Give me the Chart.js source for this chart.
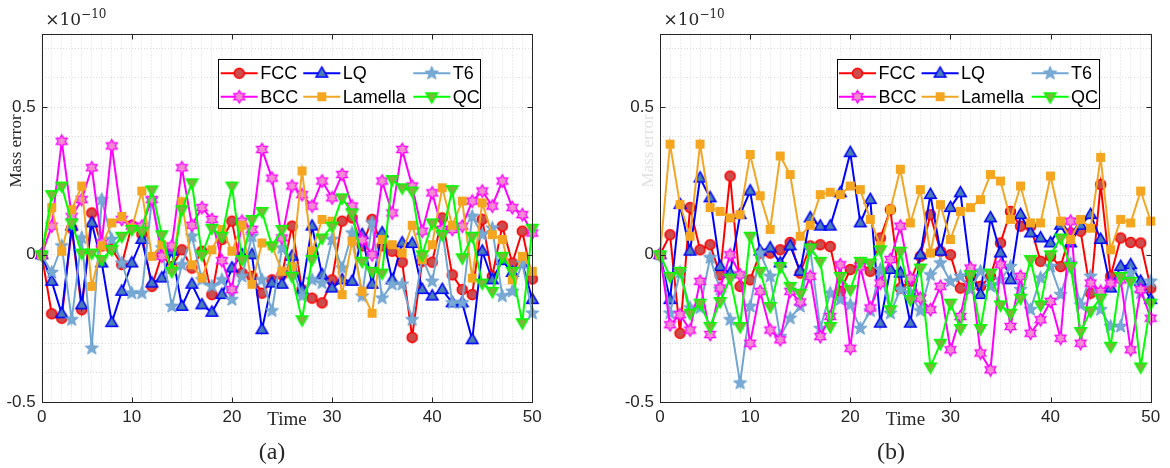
<!DOCTYPE html>
<html><head><meta charset="utf-8">
<script src="https://cdn.jsdelivr.net/npm/chart.js@4.4.1/dist/chart.umd.min.js"></script>
<style>
html,body{margin:0;padding:0;background:#fff;}
#wrap{position:relative;width:1170px;height:468px;overflow:hidden;background:#fff;}
.pane{position:absolute;top:0;width:585px;height:468px;}
</style></head><body>
<div id="wrap">
<div class="pane" style="left:0"><canvas id="ca" width="585" height="468"></canvas></div>
<div class="pane" style="left:585px"><canvas id="cb" width="585" height="468"></canvas></div>
</div>
<script>
// ---------- data ----------
const NAMES = ['FCC','LQ','T6','BCC','Lamella','QC'];
const TIME = [1,2,3,4,5,6,7,8,9,10,11,12,13,14,15,16,17,18,19,20,21,22,23,24,25,26,27,28,29,30,31,32,33,34,35,36,37,38,39,40,41,42,43,44,45,46,47,48,49,50];
const X_TICK_POS = [1,10,20,30,40,50];
const X_TICK_LABELS = ['0','10','20','30','40','50'];
const Y_GRID = [-0.5,-0.4,-0.3,-0.2,-0.1,0,0.1,0.2,0.3,0.4,0.5,0.6,0.7];
const Y_TICK_POS = [-0.5,0,0.5];
const Y_TICK_LABELS = ['-0.5','0','0.5'];

// panel (a)
const A_FCC = [0,-0.20,-0.215,0.09,-0.186,0.142,0.03,0.02,-0.033,0.10,0.07,-0.107,0.0,-0.04,0.017,-0.045,0.012,-0.135,0.052,0.114,-0.062,-0.073,-0.13,-0.085,-0.068,0.097,-0.118,-0.147,-0.163,-0.085,0.114,0.125,0.03,0.12,0.03,0.012,-0.025,-0.28,-0.022,-0.025,0.125,-0.068,-0.118,-0.135,0.12,-0.073,0.097,-0.028,0.08,-0.082];
const A_LQ = [0,-0.09,-0.2,0.097,-0.17,0.108,-0.028,-0.23,-0.124,-0.028,0.052,-0.096,-0.079,0.012,-0.175,-0.1,-0.17,-0.195,-0.135,-0.045,0.0,0.0,-0.254,-0.096,-0.1,-0.005,-0.118,0.097,-0.068,-0.113,-0.085,-0.09,0.068,-0.1,0.074,-0.085,0.04,0.038,-0.118,-0.14,-0.118,-0.163,-0.163,-0.288,0.012,-0.085,-0.02,-0.06,-0.028,-0.152];
const A_T6 = [0,-0.06,0.03,-0.22,0.057,-0.317,0.187,0.052,-0.028,-0.13,-0.13,0.187,0.023,-0.175,-0.034,0.063,-0.085,-0.107,-0.085,-0.152,-0.073,0.063,-0.085,-0.19,0.023,-0.04,-0.14,-0.085,-0.096,0.052,-0.045,0.074,-0.14,0.108,-0.147,-0.1,-0.1,-0.22,-0.01,-0.09,0.086,-0.163,-0.163,0.13,0.068,0.09,-0.14,-0.124,-0.028,-0.198];
const A_BCC = [0,0.097,0.385,0.13,0.187,0.295,0.04,0.369,0.12,0.097,0.097,0.187,-0.005,0.03,0.295,0.1,0.16,0.12,-0.02,-0.118,0.114,0.086,0.357,0.26,0.057,0.233,0.204,0.165,0.25,0.193,0.272,0.165,0.05,0.0,0.25,0.142,0.357,0.233,0.08,0.21,0.086,0.086,0.097,0.182,0.216,0.165,0.25,0.16,0.136,0.074];
const A_LAM = [0,0.16,0.012,0.153,0.233,-0.107,0.03,0.108,0.13,0.09,0.216,-0.005,0.034,-0.05,0.18,-0.034,-0.079,0.017,0.086,0.012,0.1,-0.1,0.04,0.03,-0.056,-0.04,0.284,0.012,0.12,0.114,-0.135,0.046,-0.124,-0.198,0.052,0.034,0.006,0.1,-0.016,0.034,0.227,0.1,0.182,-0.079,0.176,0.068,0.052,-0.085,-0.005,-0.056];
const A_QC = [0,0.204,0.233,0.108,0.006,0.006,-0.016,0.018,0.063,0.086,0.08,0.22,0.068,-0.056,0.153,0.244,0.0,0.09,0.063,0.233,-0.016,0.12,0.147,0.03,0.086,-0.073,-0.22,-0.016,0.057,0.097,0.193,0.142,-0.022,-0.056,-0.062,0.255,0.227,0.216,0.0,0.108,0.068,0.221,-0.01,0.063,-0.096,-0.124,-0.005,-0.056,-0.23,0.09];

// panel (b)
const B_FCC = [0,0.068,-0.266,0.16,0.017,0.034,-0.068,0.267,-0.107,-0.085,0.006,0.006,0.017,0.042,-0.062,0.03,0.034,0.028,-0.124,-0.05,-0.028,-0.056,0.057,0.153,-0.113,-0.09,-0.005,0.136,0.012,0.0,-0.113,-0.073,-0.107,-0.073,0.04,0.147,0.097,0.097,-0.022,-0.005,-0.04,0.074,0.08,-0.13,0.238,-0.073,0.057,0.042,0.04,-0.113];
const B_LQ = [0,-0.152,0.17,0.012,0.26,0.193,-0.04,-0.062,0.136,0.216,0.012,0.023,-0.028,0.03,-0.056,0.125,0.097,0.097,0.21,0.346,0.108,0.187,-0.232,-0.05,-0.062,-0.232,0.0,0.204,0.012,0.16,0.21,-0.056,-0.135,0.125,0.006,-0.085,0.136,0.074,0.057,0.04,0.1,0.04,0.1,0.136,0.052,-0.113,-0.04,-0.034,-0.09,-0.152];
const B_T6 = [0,-0.198,-0.06,-0.18,-0.18,-0.01,-0.118,-0.22,-0.435,-0.175,0.006,-0.073,-0.277,-0.215,-0.175,0.02,-0.25,-0.13,-0.152,-0.17,-0.25,-0.19,-0.05,-0.198,-0.118,-0.13,-0.19,-0.068,-0.028,-0.09,-0.073,-0.118,-0.056,-0.107,-0.085,-0.04,-0.118,-0.186,-0.079,-0.04,-0.135,-0.03,-0.17,-0.073,-0.186,-0.243,-0.243,-0.062,-0.13,-0.09];
const B_BCC = [0,-0.237,-0.203,-0.255,-0.09,-0.27,-0.113,0.0,-0.068,-0.3,-0.124,-0.255,-0.288,-0.124,-0.16,-0.073,-0.277,-0.209,-0.034,-0.317,-0.04,-0.18,-0.096,-0.016,0.097,-0.079,-0.147,-0.186,-0.107,-0.322,-0.209,-0.045,-0.333,-0.39,-0.034,-0.243,-0.073,-0.266,-0.22,-0.158,-0.283,0.114,-0.3,-0.096,-0.124,-0.096,-0.085,-0.322,-0.118,-0.215];
const B_LAM = [0,0.375,0.17,0.063,0.375,0.16,0.147,0.125,0.136,0.34,0.2,0.086,0.335,0.272,0.063,0.1,0.204,0.212,0.204,0.233,0.221,0.12,0.03,0.153,0.29,0.108,0.221,0.006,0.17,0.052,0.147,0.16,0.187,0.272,0.25,0.12,0.233,0.108,0.108,0.267,0.114,0.052,0.12,0.09,0.33,0.017,0.12,0.108,0.216,0.114];
const B_QC = [0,-0.073,-0.056,-0.198,-0.164,-0.243,-0.158,-0.079,-0.243,0.063,-0.056,-0.175,-0.04,-0.107,-0.13,0.023,-0.022,-0.243,-0.073,-0.118,-0.022,-0.028,0.017,-0.186,0.012,-0.152,-0.045,-0.38,-0.3,-0.164,-0.25,-0.068,-0.25,-0.062,-0.17,-0.198,-0.147,-0.016,-0.17,0.0,0.057,-0.04,-0.26,-0.19,-0.147,-0.31,-0.073,-0.09,-0.38,-0.164];

const PANEL_A = {FCC:A_FCC, LQ:A_LQ, T6:A_T6, BCC:A_BCC, Lamella:A_LAM, QC:A_QC};
const PANEL_B = {FCC:B_FCC, LQ:B_LQ, T6:B_T6, BCC:B_BCC, Lamella:B_LAM, QC:B_QC};

// ---------- styles ----------
const LINE = {FCC:'#ff0000', LQ:'#0000ff', T6:'#72a6d2', BCC:'#ff00ff', Lamella:'#f2a626', QC:'#00ff00'};

function mk(draw){
  const s = 17, c = document.createElement('canvas');
  c.width = s; c.height = s;
  const g = c.getContext('2d');
  g.translate(s/2, s/2);
  draw(g);
  return c;
}
function starPath(g, n, ro, ri){
  g.beginPath();
  for (let k=0;k<2*n;k++){
    const r = k%2===0 ? ro : ri;
    const a = -Math.PI/2 + k*Math.PI/n;
    const px = r*Math.cos(a), py = r*Math.sin(a);
    if (k===0) g.moveTo(px,py); else g.lineTo(px,py);
  }
  g.closePath();
}
const MARK = {
  FCC: mk(g=>{g.beginPath();g.arc(0,0,5,0,2*Math.PI);g.fillStyle='#cc4d4d';g.fill();g.lineWidth=1.5;g.strokeStyle='#ff0000';g.stroke();}),
  LQ: mk(g=>{g.beginPath();g.moveTo(0,-6.3);g.lineTo(5.8,3.8);g.lineTo(-5.8,3.8);g.closePath();g.fillStyle='#4a7fb6';g.fill();g.lineWidth=1.5;g.strokeStyle='#0000ff';g.stroke();}),
  T6: mk(g=>{starPath(g,5,7,3);g.fillStyle='#78aad4';g.fill();g.lineWidth=1;g.strokeStyle='#6a9fcf';g.stroke();}),
  BCC: mk(g=>{starPath(g,6,6.3,3.6);g.fillStyle='#f48ad2';g.fill();g.lineWidth=1.3;g.strokeStyle='#ff00ff';g.stroke();}),
  Lamella: mk(g=>{g.fillStyle='#f4a620';g.fillRect(-4.5,-4.5,9,9);}),
  QC: mk(g=>{g.beginPath();g.moveTo(0,6.3);g.lineTo(5.8,-3.8);g.lineTo(-5.8,-3.8);g.closePath();g.fillStyle='#82b43c';g.fill();g.lineWidth=1.5;g.strokeStyle='#00ff00';g.stroke();})
};

// ---------- decorations plugin ----------
const deco = {
  id:'deco',
  afterDraw(chart, args, P){
    const {ctx, chartArea:a, scales:{x, y}} = chart;
    ctx.save();
    const L = Math.round(a.left)+0.5, R = Math.round(a.right)+0.5, T = Math.round(a.top)+0.5, B = Math.round(a.bottom)+0.5;
    ctx.strokeStyle = '#262626'; ctx.lineWidth = 1;
    ctx.beginPath();
    X_TICK_POS.forEach(v=>{const px=Math.round(x.getPixelForValue(v))+0.5; ctx.moveTo(px,B);ctx.lineTo(px,B-5);ctx.moveTo(px,T);ctx.lineTo(px,T+5);});
    Y_TICK_POS.forEach(v=>{const py=Math.round(y.getPixelForValue(v))+0.5; ctx.moveTo(L,py);ctx.lineTo(L+5,py);ctx.moveTo(R,py);ctx.lineTo(R-5,py);});
    ctx.stroke();
    ctx.strokeRect(L, T, R-L, B-T);

    // legend
    const bx = a.left + 176.6, by = 59.3, bw = 261.7, bh = 49;
    ctx.fillStyle = '#fff';
    ctx.fillRect(bx, by, bw, bh);
    ctx.strokeStyle = '#000'; ctx.lineWidth = 1;
    ctx.strokeRect(Math.round(bx)+0.5, Math.round(by)+0.5, Math.round(bw), Math.round(bh));
    const cols = [2.4, 85, 195];
    const rows = [14, 37.4];
    ctx.font = '18px "Liberation Sans"';
    ctx.textBaseline = 'middle'; ctx.textAlign = 'left';
    NAMES.forEach((n,k)=>{
      const cx = bx + cols[k%3], cy = by + rows[Math.floor(k/3)];
      ctx.strokeStyle = LINE[n]; ctx.lineWidth = 2;
      ctx.beginPath(); ctx.moveTo(cx, cy); ctx.lineTo(cx+37, cy); ctx.stroke();
      const m = MARK[n];
      ctx.drawImage(m, cx+18.5-m.width/2, cy-m.height/2);
      ctx.fillStyle = '#000';
      ctx.fillText(n, cx+39.5, cy+1);
    });

    // texts
    ctx.fillStyle = '#262626';
    ctx.textBaseline = 'alphabetic'; ctx.textAlign = 'left';
    ctx.font = '17px "DejaVu Serif"';
    ctx.fillText('\u00d710', a.left+3.5, 25);
    const w = ctx.measureText('\u00d710').width;
    ctx.font = '12px "DejaVu Serif"';
    ctx.fillText('\u221210', a.left+3.5+w, 18);

    ctx.font = '19px "Liberation Serif"';
    ctx.textAlign = 'center';
    ctx.fillText('Time', (a.left+a.right)/2, 425);
    ctx.font = '24px "Liberation Serif"';
    ctx.fillText(P.tag, P.tagX, 459);

    ctx.save();
    ctx.translate(P.ylabX, 151);
    ctx.rotate(-Math.PI/2);
    ctx.font = '17px "Liberation Serif"';
    ctx.fillStyle = P.ylabColor;
    ctx.textAlign = 'center'; ctx.textBaseline = 'middle';
    ctx.fillText('Mass error', 0, 0);
    ctx.restore();
    ctx.restore();
  }
};

function build(id, data, P){
  const datasets = NAMES.map((n,k)=>({
    label:n,
    data: TIME.map((t,i)=>({x:t, y:data[n][i]})),
    borderColor: LINE[n], backgroundColor: LINE[n], borderWidth:2,
    pointStyle: MARK[n], pointRadius:5, pointHoverRadius:5,
    fill:false, tension:0, clip:false, order: 6-k
  }));
  const tickFont = {family:'Liberation Sans', size:17};
  return new Chart(document.getElementById(id), {
    type:'line',
    data:{datasets},
    options:{
      responsive:false, animation:false, devicePixelRatio:1, events:[],
      layout:{padding:{top:P.top, right:585-P.right, left:0, bottom:0}},
      plugins:{legend:{display:false}, tooltip:{enabled:false}, deco:P},
      scales:{
        x:{type:'linear', min:1, max:50,
          afterBuildTicks:s=>{s.ticks = TIME.map(v=>({value:v}));},
          afterFit:s=>{s.height = 468-P.bottom;},
          ticks:{autoSkip:false, maxRotation:0, minRotation:0, padding:5, color:'#262626', font:tickFont,
            callback:(v)=>{const j=X_TICK_POS.indexOf(v); return j>=0?X_TICK_LABELS[j]:'';}},
          grid:{color:'#dcdcdc', lineWidth:1, drawTicks:false},
          border:{display:false, dash:[1,2]}},
        y:{type:'linear', min:-0.5, max:0.75,
          afterBuildTicks:s=>{s.ticks = Y_GRID.map(v=>({value:v}));},
          afterFit:s=>{s.width = P.left;},
          ticks:{padding:6, color:'#262626', font:tickFont,
            callback:(v)=>{const j=Y_TICK_POS.findIndex(q=>Math.abs(q-v)<1e-6); return j>=0?Y_TICK_LABELS[j]:'';}},
          grid:{color:'#dcdcdc', lineWidth:1, drawTicks:false},
          border:{display:false, dash:[1,2]}}
      }
    },
    plugins:[deco]
  });
}

build('ca', PANEL_A, {left:41.7, right:532.3, top:33.5, bottom:402.3, tag:'(a)', tagX:272, ylabX:17, ylabColor:'#262626'});
build('cb', PANEL_B, {left:75, right:565.7, top:33.5, bottom:402.3, tag:'(b)', tagX:306, ylabX:64, ylabColor:'#e2e2e2'});
</script>
</body></html>
